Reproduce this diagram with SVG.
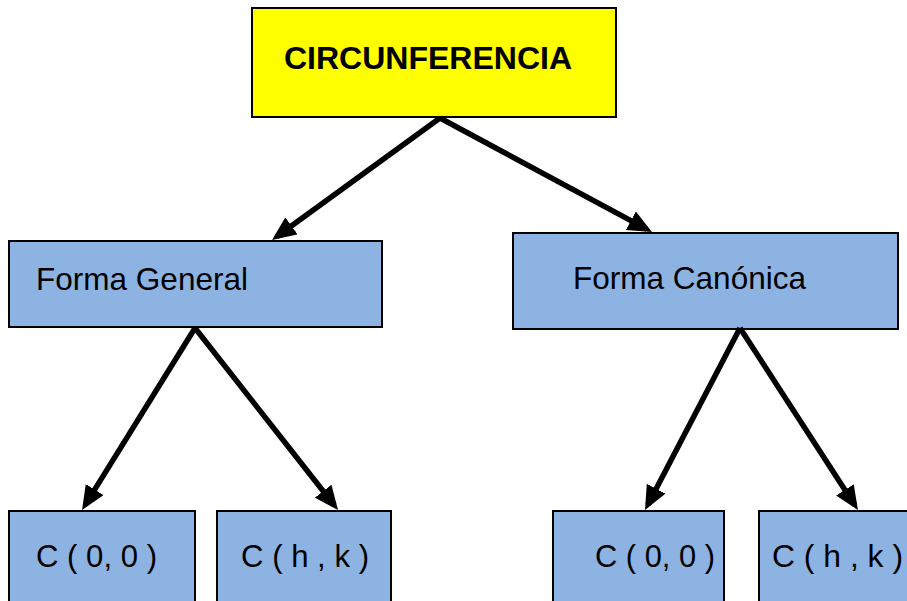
<svg xmlns="http://www.w3.org/2000/svg" width="907" height="601" viewBox="0 0 907 601">
  <style>
    .box { stroke: #000; stroke-width: 2; }
    .root { fill: #ffff00; }
    .leaf { fill: #8db3e2; }
    .lbl { font-family: "Liberation Sans", Arial, sans-serif; font-size: 32px; fill: #000; }
    .title { font-family: "Liberation Sans", Arial, sans-serif; font-size: 31px; font-weight: bold; fill: #000; }
    .link { stroke: #000; stroke-width: 5.5; fill: none; }
  </style>
  <defs>
    <marker id="head" markerUnits="userSpaceOnUse" markerWidth="24" markerHeight="21" viewBox="0 0 24 21" refX="18" refY="10.5" orient="auto">
      <path d="M0,0 L24,10.5 L0,21 z" fill="#000"/>
    </marker>
  </defs>
  <rect width="907" height="601" fill="#fff"/>

  <g id="n-circunferencia">
    <rect class="box root" x="252" y="8" width="364" height="109"/>
    <text class="title" x="284" y="69" textLength="288" lengthAdjust="spacingAndGlyphs">CIRCUNFERENCIA</text>
  </g>
  <g id="n-general">
    <rect class="box leaf" x="9" y="241" width="373" height="86"/>
    <text class="lbl" x="36" y="290" textLength="212" lengthAdjust="spacingAndGlyphs">Forma General</text>
  </g>
  <g id="n-canonica">
    <rect class="box leaf" x="513" y="233" width="385" height="96"/>
    <text class="lbl" x="573" y="289" textLength="233" lengthAdjust="spacingAndGlyphs">Forma Canónica</text>
  </g>
  <g id="n-g00">
    <rect class="box leaf" x="9" y="511" width="186" height="100"/>
    <text class="lbl" x="36" y="567" textLength="121" lengthAdjust="spacingAndGlyphs">C ( 0, 0 )</text>
  </g>
  <g id="n-ghk">
    <rect class="box leaf" x="217" y="511" width="174" height="100"/>
    <text class="lbl" x="241" y="567" textLength="128" lengthAdjust="spacingAndGlyphs">C ( h , k )</text>
  </g>
  <g id="n-c00">
    <rect class="box leaf" x="553" y="511" width="171" height="100"/>
    <text class="lbl" x="595" y="567" textLength="120" lengthAdjust="spacingAndGlyphs">C ( 0, 0 )</text>
  </g>
  <g id="n-chk">
    <rect class="box leaf" x="759" y="511" width="160" height="100"/>
    <text class="lbl" x="772" y="567" textLength="131" lengthAdjust="spacingAndGlyphs">C ( h , k )</text>
  </g>

  <g id="connectors">
    <line class="link" x1="440" y1="118" x2="276.9" y2="236.5" marker-end="url(#head)"/>
    <line class="link" x1="440" y1="118" x2="646.7" y2="229.2" marker-end="url(#head)"/>
    <line class="link" x1="195" y1="328" x2="85.2" y2="504.9" marker-end="url(#head)"/>
    <line class="link" x1="195" y1="328" x2="334.3" y2="505.3" marker-end="url(#head)"/>
    <line class="link" x1="740" y1="328" x2="647.8" y2="504.7" marker-end="url(#head)"/>
    <line class="link" x1="740" y1="328" x2="854.7" y2="505" marker-end="url(#head)"/>
  </g>
</svg>
